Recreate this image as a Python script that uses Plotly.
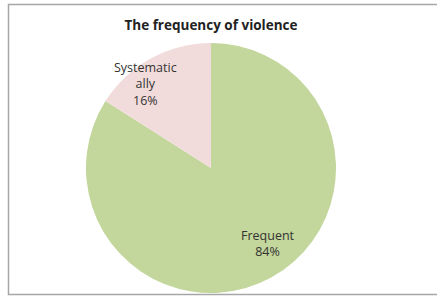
import plotly.graph_objects as go

labels = ["Frequent", "Systematically"]
display_labels = ["Frequent", "Systematic<br>ally"]
values = [84, 16]
colors = ["#C3D69B", "#F2DCDB"]

W, H = 437, 296
fig = go.Figure()
fig.add_trace(go.Pie(
    labels=labels, values=values, sort=False, direction="clockwise",
    rotation=0, marker=dict(colors=colors, line=dict(width=0)),
    textinfo="none", hoverinfo="label+percent", showlegend=False,
    domain=dict(x=[86/W, 336/W], y=[3/H, 253/H]),
))

total = sum(values)
label_pos = [(268, 243), (145, 84)]
for lab, v, (px, py) in zip(display_labels, values, label_pos):
    fig.add_annotation(
        x=px/W, y=1-py/H, xref="paper", yref="paper", showarrow=False,
        xanchor="center", yanchor="middle",
        text=f"{lab}<br>{round(100*v/total)}%",
        font=dict(family="Open Sans, Liberation Sans, sans-serif", size=12.5, color="#333333"),
        align="center",
    )

fig.add_shape(type="rect", xref="paper", yref="paper",
              x0=8.5/W, x1=1.02, y0=1-294.5/H, y1=1-4.5/H,
              line=dict(color="#A6A6A6", width=1.5))

fig.update_layout(
    width=W, height=H, margin=dict(l=0, r=0, t=0, b=0),
    paper_bgcolor="white", plot_bgcolor="white",
    title=dict(text="<b>The frequency of violence</b>", x=211/W, xanchor="center",
               y=1-25/H, yanchor="middle",
               font=dict(family="Open Sans, Liberation Sans, sans-serif", size=13.5, color="#222222")),
)
fig.write_html("out.html", config={"displayModeBar": False},
               post_script="document.body.style.margin='0';document.body.style.padding='0';")
